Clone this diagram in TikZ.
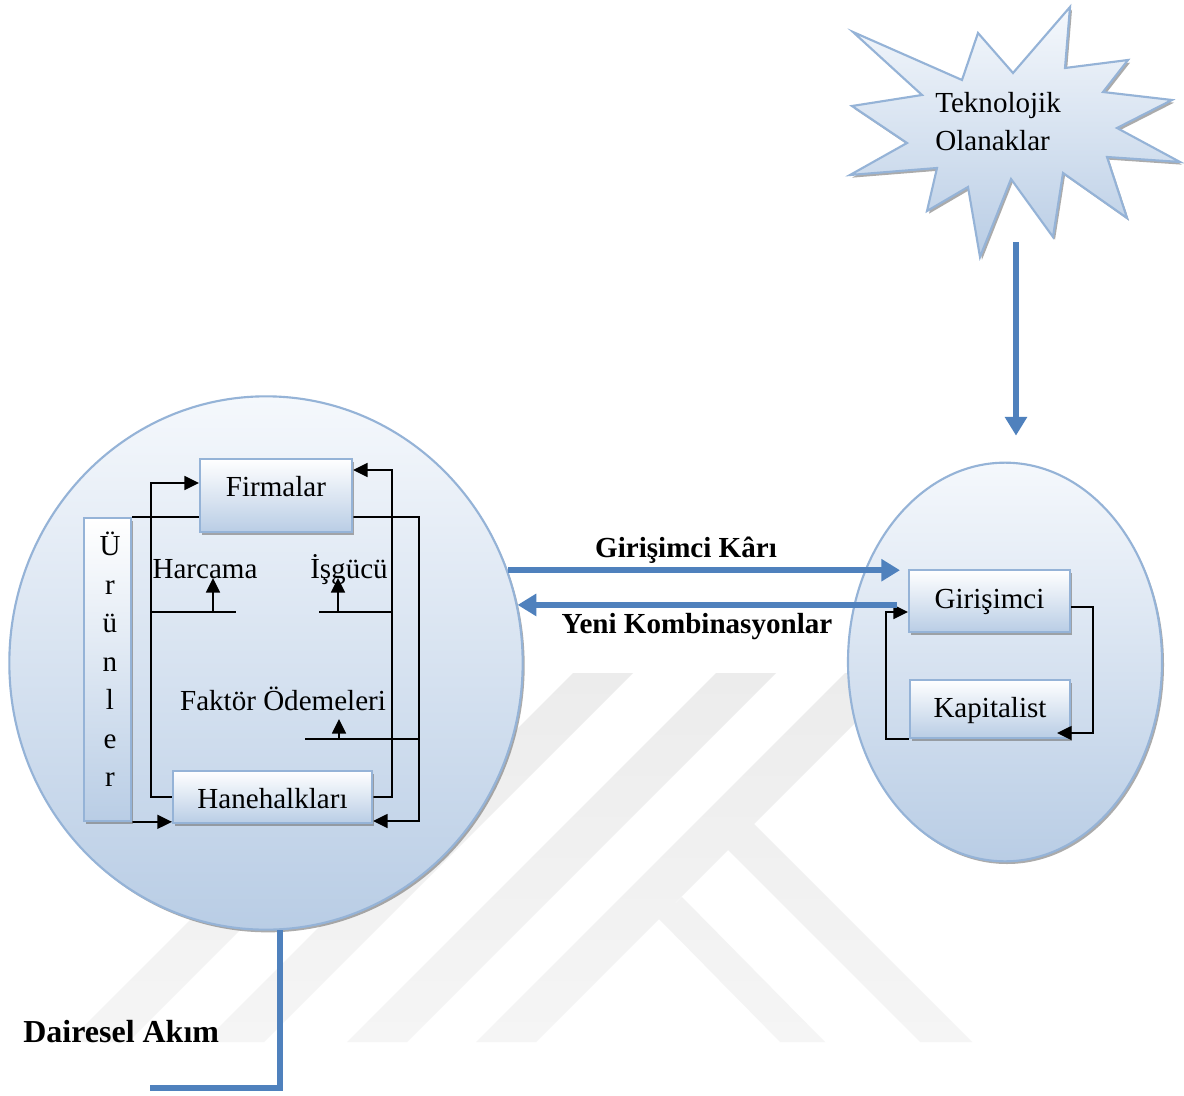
\documentclass[tikz,border=0pt]{standalone}
\usepackage{fontspec}
\setmainfont{Liberation Serif}
\usetikzlibrary{arrows.meta,shadows,shapes.geometric}
\pgfdeclarelayer{backdrop}
\pgfdeclarelayer{wires}
\pgfsetlayers{backdrop,wires,main}
\definecolor{rimblue}{HTML}{95B3D7}
\definecolor{flowblue}{HTML}{4F81BD}
\definecolor{paleblue}{HTML}{B9CDE5}
\definecolor{mistblue}{HTML}{F5F8FC}
\definecolor{markgray}{HTML}{ECECEC}
\definecolor{markfade}{HTML}{F5F5F5}
\begin{document}
\begin{tikzpicture}[x=0.75pt,y=-0.75pt,
  txt/.style={font=\fontsize{21.8pt}{26pt}\selectfont, inner sep=0pt},
  boldtxt/.style={font=\fontsize{21.8pt}{26pt}\selectfont\bfseries, inner sep=0pt},
  softshadow/.style={drop shadow={shadow xshift=1.5pt, shadow yshift=-2pt, fill=black!55, opacity=0.6}},
  bubble/.style={ellipse, draw=rimblue, line width=1.6pt, top color=mistblue, bottom color=paleblue, inner sep=0pt, softshadow},
  panel/.style={rectangle, draw=rimblue, line width=1.5pt, top color=white, bottom color=paleblue, inner sep=0pt, softshadow, font=\fontsize{21.8pt}{26pt}\selectfont, text height=15pt},
  wire/.style={draw=black, line width=1.2pt},
  tip/.style={-{Triangle[length=11pt,width=10.5pt]}},
  bigflow/.style={draw=flowblue, line width=4.5pt},
  bigtip/.style={-{Triangle[length=14pt,width=16pt]}},
]
\useasboundingbox (0,0) rectangle (1184,1095);

\begin{pgfonlayer}{backdrop}
  \fill[white] (0,0) rectangle (1184,1095);
  % faint background emblem: four slanted bands and two arms
  \shade[top color=markgray, bottom color=markfade]
    (437,673) -- (497,673) -- (128,1042) -- (68,1042) -- cycle
    (573,673) -- (633,673) -- (264,1042) -- (204,1042) -- cycle
    (716,673) -- (776,673) -- (407,1042) -- (347,1042) -- cycle
    (845,673) -- (905,673) -- (536,1042) -- (476,1042) -- cycle
    (754,824) -- (972,1042) -- (920,1042) -- (728,850) -- cycle
    (682,897) -- (825,1042) -- (780,1042) -- (659,919) -- cycle;

  % the two sectors
  \node[bubble, minimum width=385pt, minimum height=400pt] (lcirc) at (266,663) {};
  \node[bubble, minimum width=235.5pt, minimum height=299pt] (rcirc) at (1005,662) {};

  % burst of technological opportunities
  \path[draw=rimblue, line width=1.6pt, top color=mistblue, bottom color=paleblue, softshadow]
    (853,32) -- (962,80) -- (978,33) -- (1013,73) -- (1070,7) -- (1065,68)
    -- (1128,60) -- (1103,92) -- (1172,100) -- (1117,128) -- (1180,162)
    -- (1107,157) -- (1127,218) -- (1063,173) -- (1053,237) -- (1011,179)
    -- (980,257) -- (968,187) -- (927,211) -- (937,168) -- (850,175)
    -- (907,143) -- (852,106) -- (922,95) -- cycle;
\end{pgfonlayer}

\node[txt, align=left, anchor=north west, font=\fontsize{21.8pt}{28.5pt}\selectfont] (techtext) at (935,92) {Teknolojik\\Olanaklar};
\coordinate (techfoot) at (1016,242);

% boxes of the circular flow
\node[panel, minimum width=114pt, minimum height=54.75pt, text depth=12.8pt] (firm) at (276,495.5) {Firmalar};
\node[panel, minimum width=149.25pt, minimum height=39pt, text height=16.5pt, text depth=0pt] (hane) at (272.5,797) {Hanehalkları};
\node[panel, minimum width=35.25pt, minimum height=227pt] (urun) at (107.5,669.5) {};
\node[txt, align=center, font=\fontsize{21.8pt}{28.9pt}\selectfont, anchor=south] (uruntext) at (110,787) {Ü\\r\\ü\\n\\l\\e\\r};

% boxes of the entrepreneur sector
\node[panel, minimum width=120.75pt, minimum height=46.5pt, text depth=4.5pt] (gir) at (989.5,601) {Girişimci};
\node[panel, minimum width=120pt, minimum height=43.5pt, text depth=3pt] (kap) at (990,709) {Kapitalist};

% labels
\node[txt, anchor=base] (harc) at (205,578) {Harcama};
\node[txt, anchor=base] (isg) at (349,578) {İşgücü};
\node[txt, anchor=base] (fakt) at (283,710) {Faktör Ödemeleri};
\node[boldtxt, anchor=base] (kar) at (686,557) {Girişimci Kârı};
\node[boldtxt, anchor=base] (yeni) at (697,633) {Yeni Kombinasyonlar};
\node[boldtxt, font=\fontsize{24pt}{28pt}\selectfont\bfseries, anchor=base west] (akim) at (23,1042) {Dairesel Akım};

\coordinate (harcL) at (151,612);
\coordinate (harcR) at (236,612);
\coordinate (harcFoot) at (213,612);
\coordinate (isgL) at (319,612);
\coordinate (isgR) at (392,612);
\coordinate (isgFoot) at (338,612);
\coordinate (faktL) at (305,739);
\coordinate (faktR) at (419,739);
\coordinate (faktFoot) at (339,739);
\coordinate (faktTip) at (339,719);
\coordinate (flowend) at (150,1088);

\begin{pgfonlayer}{wires}
  % circular flow between firms and households
  \draw[wire,tip] (hane.west) -| (151,483) -- (firm.west |- 151,483);
  \draw[wire,tip] (hane.east) -| (392,470) -- (firm.east |- 392,470);
  \draw[wire,tip] (urun.south east) -- (hane.west |- urun.south east);
  \draw[wire,tip] (urun.north east) -| (419,821) -- (hane.east |- 419,821);
  \draw[wire] (harcL) -- (harcR);
  \draw[wire,tip] (harcFoot) -- (harcFoot |- harc.base);
  \draw[wire] (isgL) -- (isgR);
  \draw[wire,tip] (isgFoot) -- (isgFoot |- isg.base);
  \draw[wire] (faktL) -- (faktR);
  \draw[wire,tip] (faktFoot) -- (faktTip);
  \draw[wire,tip] (kap.west |- 886,739) -| (886,612) -- (gir.west |- 886,612);

  % flows between the sectors
  \draw[bigflow,bigtip,shorten >=6pt] (lcirc.21) -- (gir.west |- lcirc.21);
  \draw[bigflow,bigtip,shorten <=8pt] (gir.west |- lcirc.13) -- (lcirc.13);
  \draw[bigflow,bigtip,shorten >=19.5pt] (techfoot) -- (rcirc.north -| techfoot);
  \draw[bigflow] (lcirc.-87.5) |- (flowend);
\end{pgfonlayer}

\draw[wire,tip,shorten >=-10.5pt] (gir.east |- 1093,607) -| (1093,733) -- (kap.east |- 1093,733);
\end{tikzpicture}
\end{document}
